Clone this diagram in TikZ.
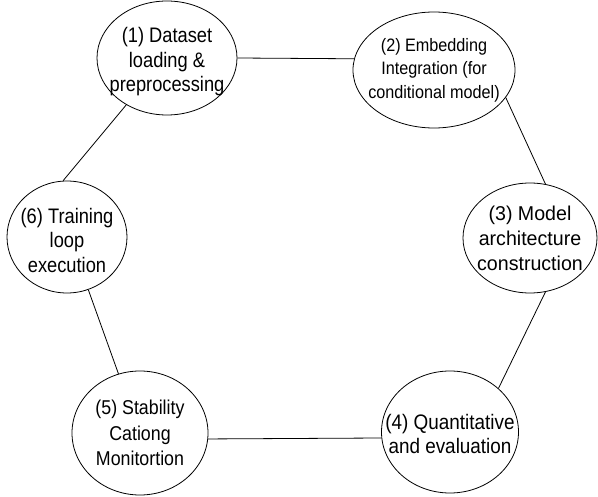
\documentclass[tikz,border=0pt]{standalone}
\usepackage{fontspec}
\setmainfont{Liberation Sans}
% condensed cuts of the same face for the stage captions
\newfontfamily\capA{Liberation Sans}[FakeStretch=0.87]
\newfontfamily\capB{Liberation Sans}[FakeStretch=0.90]
\newfontfamily\capC{Liberation Sans}[FakeStretch=0.98]
\newfontfamily\capD{Liberation Sans}[FakeStretch=0.89]
\usetikzlibrary{shapes.geometric}
\begin{document}
\begin{tikzpicture}[x=1pt,y=-1pt,
  stage/.style={ellipse, draw, line width=0.8pt, inner sep=0pt},
  caption/.style={align=center, inner sep=0pt},
  link/.style={line width=0.8pt}]
\useasboundingbox (0,0) rectangle (598,497);
% pipeline stages
\node[stage, minimum width=140, minimum height=114,
  label={[caption, font=\capA\fontsize{21}{24.5}\selectfont, yshift=-4]center:{(1) Dataset\\loading \&\\preprocessing}}]
  (s1) at (167,58) {};
\node[stage, minimum width=162, minimum height=116,
  label={[caption, font=\capB\fontsize{18}{23.5}\selectfont]center:{(2) Embedding\\Integration (for\\conditional model)}}]
  (s2) at (434,70) {};
\node[stage, minimum width=134, minimum height=110,
  label={[caption, font=\capC\fontsize{20}{25}\selectfont]center:{(3) Model\\architecture\\construction}}]
  (s3) at (530,238) {};
\node[stage, minimum width=137, minimum height=122,
  label={[caption, font=\capB\fontsize{21}{23.5}\selectfont, yshift=-2]center:{(4) Quantitative\\and evaluation}}]
  (s4) at (450,432) {};
\node[stage, minimum width=136, minimum height=124,
  label={[caption, font=\capD\fontsize{20}{25.5}\selectfont]center:{(5) Stability\\Cationg\\Monitortion}}]
  (s5) at (140,433) {};
\node[stage, minimum width=120, minimum height=112,
  label={[caption, font=\capA\fontsize{21}{24.5}\selectfont, yshift=-3]center:{(6) Training\\loop\\execution}}]
  (s6) at (67,237) {};
% cycle links
\draw[link] (s1.0) -- (s2.172);
\draw[link] (s2.-21) -- (s3.74);
\draw[link] (s3.-74) -- (s4.42);
\draw[link] (s4.185) -- (s5.-5);
\draw[link] (s5.110) -- (s6.-68);
\draw[link] (s6.94) -- (s1.229);
\end{tikzpicture}
\end{document}
